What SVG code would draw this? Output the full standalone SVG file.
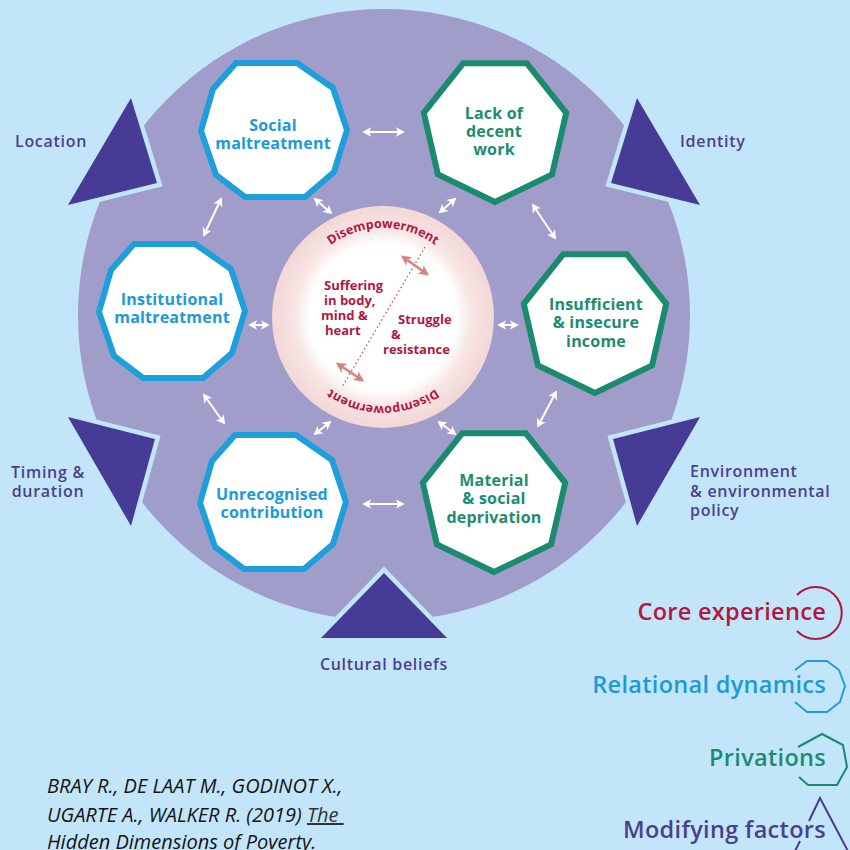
<svg xmlns="http://www.w3.org/2000/svg" xmlns:xlink="http://www.w3.org/1999/xlink" width="850" height="850" viewBox="0 0 850 850">
  <style>
    .lbl { font-family: "Open Sans", "Noto Sans", "DejaVu Sans", sans-serif; font-weight: 600; }
    .node-text { font-size: 16px; font-weight: 700; letter-spacing: 0.2px; text-anchor: middle; }
    .relational .shape { fill: #ffffff; stroke: #1d9fdc; stroke-width: 6; stroke-linejoin: miter; }
    .relational text { fill: #1b9ad8; }
    .privation .shape { fill: #ffffff; stroke: #1a8b6f; stroke-width: 6; stroke-linejoin: miter; }
    .privation text { fill: #1c8c70; }
    .factor-gap { fill: #c3e5f9; stroke: #c3e5f9; stroke-width: 9; stroke-linejoin: miter; }
    .factor { fill: #463c95; }
    .factor-text { font-size: 16px; letter-spacing: 0.7px; fill: #4c3f8e; }
    .link { stroke: #ffffff; stroke-width: 2; fill: none; marker-start: url(#head-w); marker-end: url(#head-w); }
    .core-text { font-size: 13px; font-weight: 700; fill: #b1173f; }
    .dis { font-size: 12.5px; fill: #b1173f; font-weight: 700; }
    .pull { stroke: #d9837f; stroke-width: 2.6; fill: none; marker-start: url(#head-p); marker-end: url(#head-p); }
    .legend { font-size: 23.5px; letter-spacing: 0.3px; text-anchor: end; }
    .cite { font-family: "Open Sans", "Noto Sans", sans-serif; font-style: italic; font-size: 20px; fill: #141414; }
  </style>
  <defs>
    <!-- white double-headed link arrow -->
    <marker id="head-w" viewBox="0 0 10 10" refX="7" refY="5" markerWidth="12" markerHeight="12" markerUnits="userSpaceOnUse" orient="auto-start-reverse">
      <path d="M1,1 L8.5,5 L1,9 L3,5 Z" fill="#ffffff"/>
    </marker>
    <marker id="head-p" viewBox="0 0 10 10" refX="7" refY="5" markerWidth="13" markerHeight="13" markerUnits="userSpaceOnUse" orient="auto-start-reverse">
      <path d="M1,1 L9,5 L1,9 L3,5 Z" fill="#d9837f"/>
    </marker>
    <!-- hand-drawn ten-sided frame for relational dynamics -->
    <polygon id="deca" points="-38,-67 23,-67 59,-42 73,0 60,42 31,67 -29,67 -58,45 -73,1 -61,-41"/>
    <!-- seven-sided frame for privations -->
    <polygon id="hepta" points="0,73 -57.1,45.5 -71.2,-16.2 -31.7,-65.8 31.7,-65.8 71.2,-16.2 57.1,45.5"/>
    <radialGradient id="ring" cx="0.5" cy="0.5" r="0.5">
      <stop offset="0" stop-color="#ffffff"/>
      <stop offset="0.66" stop-color="#ffffff"/>
      <stop offset="0.8" stop-color="#f7e5e4"/>
      <stop offset="1" stop-color="#f2d7d6"/>
    </radialGradient>
    <path id="arc-top" d="M294,317 A89,89 0 0 1 472,317"/>
    <path id="arc-bottom" d="M472,317 A89,89 0 0 1 294,317"/>
  </defs>

  <!-- background -->
  <rect x="0" y="0" width="850" height="850" fill="#c3e5f9"/>

  <!-- outer disc -->
  <circle cx="384" cy="315" r="306" fill="#a19dcb"/>

  <!-- modifying factors: triangles cut into the disc -->
  <g id="factors">
    <g id="location">
      <polygon class="factor-gap" points="131,98 157,183 68,205"/>
      <polygon class="factor" points="131,98 157,183 68,205"/>
      <text class="lbl factor-text" x="15" y="147">Location</text>
    </g>
    <g id="identity">
      <polygon class="factor-gap" points="637,98 611,183 700,205"/>
      <polygon class="factor" points="637,98 611,183 700,205"/>
      <text class="lbl factor-text" x="680" y="147">Identity</text>
    </g>
    <g id="timing">
      <polygon class="factor-gap" points="68,417 155,439 131,526"/>
      <polygon class="factor" points="68,417 155,439 131,526"/>
      <text class="lbl factor-text" x="48" y="478" text-anchor="middle">Timing &amp;</text>
      <text class="lbl factor-text" x="48" y="497" text-anchor="middle">duration</text>
    </g>
    <g id="environment">
      <polygon class="factor-gap" points="700,417 613,439 637,526"/>
      <polygon class="factor" points="700,417 613,439 637,526"/>
      <text class="lbl factor-text" x="690" y="477">Environment</text>
      <text class="lbl factor-text" x="690" y="497">&amp; environmental</text>
      <text class="lbl factor-text" x="690" y="516">policy</text>
    </g>
    <g id="cultural-beliefs">
      <polygon class="factor-gap" points="384,573 321,638 447,638"/>
      <polygon class="factor" points="384,573 321,638 447,638"/>
      <text class="lbl factor-text" x="384" y="670" text-anchor="middle">Cultural beliefs</text>
    </g>
  </g>

  <!-- connectors -->
  <g id="connectors">
    <line class="link" x1="364" y1="132" x2="403" y2="132"/>
    <line class="link" x1="221" y1="199" x2="204" y2="235"/>
    <line class="link" x1="315" y1="199" x2="331" y2="213"/>
    <line class="link" x1="455" y1="199" x2="440" y2="212"/>
    <line class="link" x1="533" y1="205" x2="555" y2="238"/>
    <line class="link" x1="250" y1="325" x2="268" y2="325"/>
    <line class="link" x1="499" y1="325" x2="517" y2="325"/>
    <line class="link" x1="204" y1="395" x2="224" y2="423"/>
    <line class="link" x1="315" y1="434" x2="330" y2="422"/>
    <line class="link" x1="455" y1="434" x2="439" y2="422"/>
    <line class="link" x1="556" y1="392" x2="538" y2="426"/>
    <line class="link" x1="364" y1="504" x2="403" y2="504"/>
  </g>

  <!-- core experience -->
  <g id="core-experience">
    <circle cx="383" cy="317" r="111" fill="url(#ring)"/>
    <line x1="425" y1="247" x2="342" y2="387" stroke="#c9566c" stroke-width="1.3" stroke-dasharray="1.6 2.6"/>
    <line class="pull" x1="403" y1="257" x2="427" y2="274"/>
    <line class="pull" x1="338" y1="364" x2="362" y2="380"/>
    <text class="lbl dis"><textPath href="#arc-top" startOffset="50%" text-anchor="middle">Disempowerment</textPath></text>
    <text class="lbl dis"><textPath href="#arc-bottom" startOffset="50%" text-anchor="middle">Disempowerment</textPath></text>
    <text class="lbl core-text" x="324" y="290">Suffering</text>
    <text class="lbl core-text" x="324" y="305">in body,</text>
    <text class="lbl core-text" x="321" y="320">mind &amp;</text>
    <text class="lbl core-text" x="325" y="335">heart</text>
    <text class="lbl core-text" x="398" y="324">Struggle</text>
    <text class="lbl core-text" x="391" y="339">&amp;</text>
    <text class="lbl core-text" x="383" y="354">resistance</text>
  </g>

  <!-- relational dynamics -->
  <g id="social-maltreatment" class="relational">
    <use class="shape" href="#deca" x="274" y="130"/>
    <text class="lbl node-text" x="273" y="131">Social</text>
    <text class="lbl node-text" x="273" y="149">maltreatment</text>
  </g>
  <g id="institutional-maltreatment" class="relational">
    <use class="shape" href="#deca" x="172" y="311"/>
    <text class="lbl node-text" x="172" y="305">Institutional</text>
    <text class="lbl node-text" x="172" y="323">maltreatment</text>
  </g>
  <g id="unrecognised-contribution" class="relational">
    <use class="shape" href="#deca" x="273" y="502"/>
    <text class="lbl node-text" x="272" y="500">Unrecognised</text>
    <text class="lbl node-text" x="272" y="518">contribution</text>
  </g>

  <!-- privations -->
  <g id="lack-of-decent-work" class="privation">
    <use class="shape" href="#hepta" x="495" y="129"/>
    <text class="lbl node-text" x="494" y="119">Lack of</text>
    <text class="lbl node-text" x="494" y="137">decent</text>
    <text class="lbl node-text" x="494" y="155">work</text>
  </g>
  <g id="insufficient-income" class="privation">
    <use class="shape" href="#hepta" x="595" y="320"/>
    <text class="lbl node-text" x="596" y="310">Insufficient</text>
    <text class="lbl node-text" x="596" y="328">&amp; insecure</text>
    <text class="lbl node-text" x="596" y="347">income</text>
  </g>
  <g id="material-social-deprivation" class="privation">
    <use class="shape" href="#hepta" x="494" y="499"/>
    <text class="lbl node-text" x="494" y="486">Material</text>
    <text class="lbl node-text" x="494" y="504">&amp; social</text>
    <text class="lbl node-text" x="494" y="523">deprivation</text>
  </g>

  <!-- key -->
  <g id="key">
    <path d="M797,595 A26,26 0 1 1 797,631" fill="none" stroke="#b1173f" stroke-width="2"/>
    <text class="lbl legend" x="826" y="620" fill="#b1173f">Core experience</text>

    <polyline points="795,670 807,661 827,661 839,670 845,686 840,702 827,712 807,712 795,702" fill="none" stroke="#1d9fdc" stroke-width="2"/>
    <text class="lbl legend" x="826" y="693" fill="#1b9ad8">Relational dynamics</text>

    <polyline points="798,747 822,734 843,745 847,767 837,785 808,785 799,777" fill="none" stroke="#1a8b6f" stroke-width="2"/>
    <text class="lbl legend" x="826" y="766" fill="#1c8c70">Privations</text>

    <path d="M809,821 L820,798 L850,855 M800,841 L795,851" fill="none" stroke="#463c95" stroke-width="2"/>
    <text class="lbl legend" x="826" y="838" fill="#4c3f8e">Modifying factors</text>
  </g>

  <!-- reference -->
  <g id="citation">
    <text class="cite" x="47" y="793">BRAY R., DE LAAT M., GODINOT X.,</text>
    <text class="cite" x="47" y="822">UGARTE A., WALKER R. (2019) <tspan fill="#333333" text-decoration="underline">The&#160;</tspan></text>
    <text class="cite" x="47" y="849" fill="#3a3a3a">Hidden Dimensions of Poverty.</text>
  </g>
</svg>
